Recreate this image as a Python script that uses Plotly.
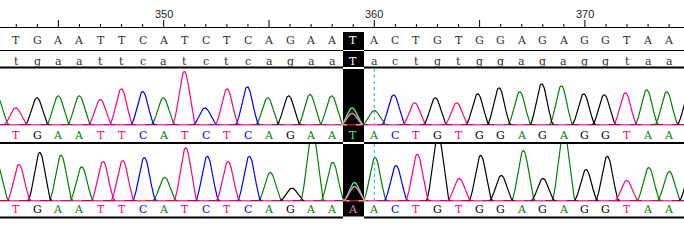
import numpy as np
import plotly.graph_objects as go

W, H = 684, 243
PX_PER_BASE = 21.06
BASE_AT_0 = 350 - 163.7 / PX_PER_BASE

first_base = 343
consensus = list("TGAATTCATCTCAGAATACTGTGGAGAGGTAA")
ref_row = list("tgaattcatctcagaaTactgtggagaggtaa")
row3 = list("TGAATTCATCTCAGAATACTGTGGAGAGGTAA")
row4 = list("TGAATTCATCTCAGAAAACTGTGGAGAGGTAA")

top_calls = list("ATGAATTCATCTCAGAATACTGTGGAGAGGTAAG")
top_x = [-3, 15.7, 37, 58.3, 79.3, 100.3, 121.3, 142.7, 163.3, 184.3, 205, 227, 247.3, 267.7, 288.7, 310, 331.7,
         352, 374.3, 393.7, 414.7, 435.3, 456.7, 477.7, 499, 519.7, 541.7, 561.3, 583.7, 604.3, 625.3, 646.7, 666.7, 689]
top_h = [28, 16.7, 26.7, 28.7, 28.7, 25, 35.7, 33, 26.7, 53, 16.7, 35.7, 37.7, 26.7, 28.7, 30, 28.7,
         16.7, 14, 29.7, 21.7, 26.7, 21.7, 30.7, 36.7, 32.7, 40.7, 38.7, 30.7, 29.7, 31.7, 34.7, 32.7, 32]

bot_calls = list("ATGAATTCATCTCAGAATACTGTGGAGAGGTAAG")
bot_x = [-3, 19, 39.7, 61, 81.7, 103, 122.7, 144.3, 164.7, 185.7, 207.3, 228, 249.3, 270.3, 292, 312.3, 332.7,
         354.7, 375, 396, 417.3, 438, 459.3, 480.7, 501.3, 523.3, 543, 563.7, 586, 607.3, 626.7, 648.7, 669.3, 691]
bot_h = [36, 36, 48, 45.3, 33.7, 39, 40, 43, 23, 52.7, 44.3, 39, 44.3, 28, 12.3, 70, 38.3,
         18, 43, 35, 46.3, 66, 22, 45, 25, 50, 22, 70, 31, 44.3, 20, 33, 29, 30]

# colour of the small baseline fragments, one per base cell
top_bits = list("CGGCCCCCCACCACGCACCGCCGCCCACAGCGCG")
bot_bits = list("GGGAGGGAAGGAGAGAGACGGCGAGAGGAAGAGG")

hi_top = [("#40f080", 352, 16.7), ("#ff80c0", 352, 11.3)]
hi_bot = [("#40f080", 354.4, 18), ("#ff80c0", 354.4, 14)]

COL = {"A": "#008000", "C": "#0000ff", "G": "#000000", "T": "#ff0080"}
ORDER = ["A", "G", "C", "T"]


def b(px):
    return BASE_AT_0 + np.asarray(px) / PX_PER_BASE


def peak_curve(cx, h, half=12.0):
    xs = np.arange(cx - half, cx + half + 0.5, 0.5)
    ys = h * np.cos(np.pi * (xs - cx) / (2 * half)) ** 2
    return xs, ys


fig = go.Figure()


def line_trace(x, y, yaxis, color, width=1.2):
    fig.add_trace(go.Scatter(x=x, y=y, mode="lines", yaxis=yaxis, line=dict(color=color, width=width),
                             hoverinfo="skip", showlegend=False))


def add_chrom(calls, xs, hs, yaxis, bits, hi_idx, hi_pair):
    for col_name in ORDER[:3]:
        X, Y = [], []
        for i, k in enumerate(bits):
            if k == col_name:
                X += [b(i * 21.06 - 2), b(i * 21.06 + 10), None]
                Y += [0, 0, None]
        line_trace(X, Y, yaxis, COL[col_name])
    line_trace([b(0), b(W)], [-0.6, -0.6], yaxis, COL["T"], 1.5)
    for c in ORDER:
        X, Y = [], []
        for i, (k, cx, h) in enumerate(zip(calls, xs, hs)):
            if k != c or i == hi_idx:
                continue
            px, py = peak_curve(cx, h)
            X += list(b(px)) + [None]
            Y += list(py) + [None]
        line_trace(X, Y, yaxis, COL[c])
    for color, cx, h in hi_pair:
        px, py = peak_curve(cx, h, 11.0)
        line_trace(b(px), py, yaxis, color, 1.4)
    cx = xs[hi_idx]
    line_trace([b(cx - 9), b(cx - 5), None, b(cx + 4), b(cx + 9)], [-0.6, -0.6, None, -0.6, -0.6], yaxis, "#f0e040", 1.5)


add_chrom(top_calls, top_x, top_h, "y", top_bits, 17, hi_top)
add_chrom(bot_calls, bot_x, bot_h, "y2", bot_bits, 17, hi_bot)

shapes = []


def hline(y, width=1):
    shapes.append(dict(type="line", xref="paper", yref="paper", x0=0, x1=1,
                       y0=1 - y / H, y1=1 - y / H, line=dict(color="black", width=width), layer="above"))


def rect(x0, x1, y0, y1, color="black", layer="below"):
    shapes.append(dict(type="rect", xref="paper", yref="paper", x0=x0 / W, x1=x1 / W,
                       y0=1 - y1 / H, y1=1 - y0 / H, fillcolor=color, line=dict(width=0), layer=layer))


rect(343, 364, 32, 217)
hline(27.5, 1)
hline(50.5, 1)
hline(67.5, 2)
hline(143, 2)
hline(217.5, 2)
rect(343, 364, 50, 51, "white", "above")
rect(343, 364, 67, 69, "white", "above")
rect(343, 364, 142, 144, "white", "above")
rect(343, 364, 216.5, 219, "white", "above")

for tb in range(342, 376):
    tx = (tb - BASE_AT_0) * PX_PER_BASE / W
    top = 20 if tb % 5 == 0 else 24
    shapes.append(dict(type="line", xref="paper", yref="paper", x0=tx, x1=tx,
                       y0=1 - top / H, y1=1 - 27 / H, line=dict(color="black", width=1)))

marker_x = (360 - BASE_AT_0) * PX_PER_BASE / W
shapes.append(dict(type="line", xref="paper", yref="paper", x0=marker_x, x1=marker_x,
                   y0=1 - 69 / H, y1=1 - 124 / H, line=dict(color="#30a0d0", width=1, dash="dot")))
shapes.append(dict(type="line", xref="paper", yref="paper", x0=marker_x, x1=marker_x,
                   y0=1 - 144 / H, y1=1 - 200 / H, line=dict(color="#00c8e8", width=1, dash="dot")))

ann = []
for lab in [350, 360, 370]:
    ann.append(dict(x=(lab - BASE_AT_0) * PX_PER_BASE / W, y=1 - 14 / H, xref="paper", yref="paper", text=str(lab),
                    showarrow=False, xanchor="center", yanchor="middle",
                    font=dict(family="Liberation Sans", size=11, color="#222222")))


def letter_row(letters, y, colors):
    for i, (ch, col) in enumerate(zip(letters, colors)):
        ann.append(dict(x=(first_base + i - BASE_AT_0) * PX_PER_BASE / W, y=1 - y / H, xref="paper", yref="paper",
                        text=ch, showarrow=False, xanchor="center", yanchor="middle",
                        font=dict(family="DejaVu Serif", size=11, color=col)))


hi = 359 - first_base
letter_row(consensus, 40, ["white" if i == hi else "#303030" for i in range(len(consensus))])
letter_row(ref_row, 61.5, ["white" if i == hi else "#303030" for i in range(len(ref_row))])
letter_row(row3, 135, ["#40f080" if i == hi else COL[c] for i, c in enumerate(row3)])
letter_row(row4, 209.5, ["#e080c0" if i == hi else COL[c] for i, c in enumerate(row4)])

fig.update_layout(
    width=W, height=H, margin=dict(l=0, r=0, t=0, b=0, pad=0, autoexpand=False),
    paper_bgcolor="white", plot_bgcolor="rgba(0,0,0,0)",
    shapes=shapes, annotations=ann, showlegend=False,
    xaxis=dict(range=[float(b(0)), float(b(W))], visible=False, fixedrange=True),
    yaxis=dict(range=[-1.0, 56.0], domain=[1 - 125.5 / H, 1 - 68.5 / H], visible=False, fixedrange=True),
    yaxis2=dict(range=[-1.0, 56.5], domain=[1 - 201.5 / H, 1 - 144 / H], visible=False, fixedrange=True, anchor="x"),
)
fig.write_html("out.html", config={"displayModeBar": False},
               post_script="document.body.style.margin='0';document.body.style.overflow='hidden';")
